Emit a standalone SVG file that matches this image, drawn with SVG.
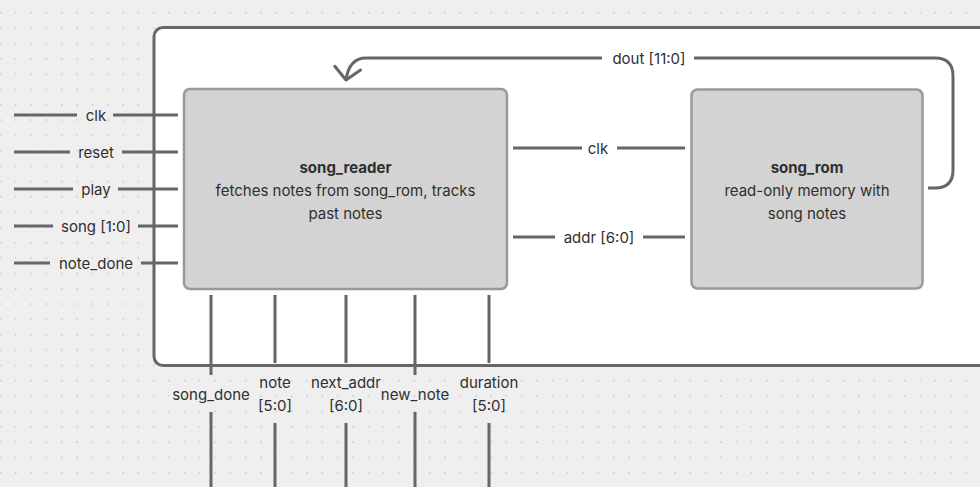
<svg xmlns="http://www.w3.org/2000/svg" width="980" height="487" viewBox="0 0 980 487">
<defs>
<pattern id="dots" x="15" y="12" width="15.33" height="15.33" patternUnits="userSpaceOnUse">
<circle cx="0.8" cy="0.8" r="0.8" fill="#c0c0c0"/>
</pattern>
<marker id="chev" viewBox="0 0 16 30" refX="14" refY="15" markerWidth="16" markerHeight="30" markerUnits="userSpaceOnUse" orient="auto">
<path d="M2 2 L14 15 L2 28" fill="none" stroke="#666" stroke-width="3" stroke-linecap="round" stroke-linejoin="round"/>
</marker>
<style>
.w{stroke:#666;stroke-width:3;fill:none;stroke-linecap:butt}
.box{fill:#d3d3d3;stroke:#999;stroke-width:2.5}
.t{font-family:Inter,"Liberation Sans",sans-serif;font-size:15px;fill:#2f2f2f;text-anchor:middle;dominant-baseline:central}
.b{font-weight:bold}
</style>
</defs>
<rect width="980" height="487" fill="#efefef"/>
<rect width="980" height="487" fill="url(#dots)"/>
<g id="container">
<rect x="154" y="27.5" width="840" height="338" rx="9" fill="#fff" stroke="#666" stroke-width="3"/>
</g>
<g id="connectors">
<path class="w" d="M14 115H77M113 115H178"/>
<text class="t" x="96" y="115">clk</text>
<path class="w" d="M14 152H70M122 152H178"/>
<text class="t" x="96" y="152">reset</text>
<path class="w" d="M14 189H73M118 189H178"/>
<text class="t" x="96" y="189">play</text>
<path class="w" d="M14 226H53M138 226H178"/>
<text class="t" x="96" y="226">song [1:0]</text>
<path class="w" d="M14 263H50M141 263H178"/>
<text class="t" x="96" y="263">note_done</text>
<path class="w" d="M513 148H582M617 148H685"/>
<text class="t" x="598" y="148">clk</text>
<path class="w" d="M513 237H555M643 237H685"/>
<text class="t" x="599" y="237">addr [6:0]</text>
<path class="w" d="M694 58H935Q953 58 953 76V170Q953 188 935 188H928"/>
<path class="w" d="M602 58H366C354 58 348 66 346 80" marker-end="url(#chev)"/>
<text class="t" x="649" y="58">dout [11:0]</text>
<path class="w" d="M211 295V375M211 412V487"/>
<text class="t" x="211" y="394">song_done</text>
<path class="w" d="M275 295V363M275 423V487"/>
<text class="t" x="275" y="382">note</text>
<text class="t" x="275" y="405.5">[5:0]</text>
<path class="w" d="M346 295V363M346 423V487"/>
<text class="t" x="346" y="382">next_addr</text>
<text class="t" x="346" y="405.5">[6:0]</text>
<path class="w" d="M415 295V375M415 412V487"/>
<text class="t" x="415" y="394">new_note</text>
<path class="w" d="M489 295V363M489 423V487"/>
<text class="t" x="489" y="382">duration</text>
<text class="t" x="489" y="405.5">[5:0]</text>
</g>
<g id="song_reader">
<rect class="box" x="184" y="89" width="323" height="200" rx="6"/>
<text class="t b" x="345.5" y="167">song_reader</text>
<text class="t" x="345.5" y="190">fetches notes from song_rom, tracks</text>
<text class="t" x="345.5" y="213">past notes</text>
</g>
<g id="song_rom">
<rect class="box" x="691.5" y="89.5" width="231" height="199" rx="6"/>
<text class="t b" x="807" y="167">song_rom</text>
<text class="t" x="807" y="190">read-only memory with</text>
<text class="t" x="807" y="213">song notes</text>
</g>
</svg>
